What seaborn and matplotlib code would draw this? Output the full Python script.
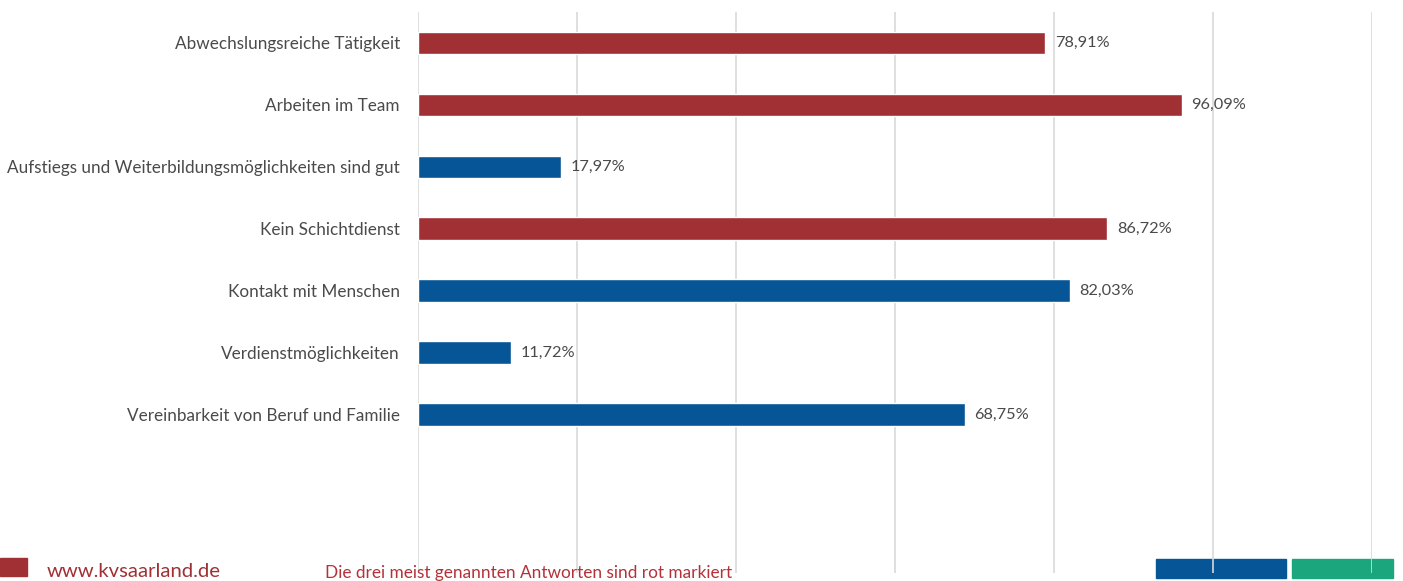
import matplotlib
matplotlib.use("Agg")
import matplotlib.pyplot as plt
import matplotlib.patches as mpatches
import seaborn as sns
import pandas as pd

categories = [
    "Abwechslungsreiche Tätigkeit",
    "Arbeiten im Team",
    "Aufstiegs und Weiterbildungsmöglichkeiten sind gut",
    "Kein Schichtdienst",
    "Kontakt mit Menschen",
    "Verdienstmöglichkeiten",
    "Vereinbarkeit von Beruf und Familie",
]
values = [78.91, 96.09, 17.97, 86.72, 82.03, 11.72, 68.75]
top_three = [True, True, False, True, False, False, False]

RED = "#a03034"
BLUE = "#065596"
GREEN = "#1ba67e"
TEXT = "#4a4a4a"

sns.set_theme(style="white")
plt.rcParams["font.family"] = ["Lato", "DejaVu Sans"]

df = pd.DataFrame({"Antwort": categories, "Anteil": values,
                   "Top": ["rot" if t else "blau" for t in top_three]})

fig = plt.figure(figsize=(14.03, 5.81), dpi=100)
W, H = 1403, 581
ax = fig.add_axes([418 / W, 1 - 573 / H, (1372 - 418) / W, (573 - 12) / H])
ax.set_facecolor("none")

sns.barplot(data=df, y="Antwort", x="Anteil", hue="Top",
            palette={"rot": RED, "blau": BLUE}, width=0.37,
            dodge=False, legend=False, ax=ax, saturation=1)

ax.set_xlim(0, 120)
ax.set_ylim(8.55, -0.5)
ax.set_xticks(range(0, 121, 20))
ax.set_xticklabels([])
ax.tick_params(axis="x", length=0)
ax.tick_params(axis="y", length=0, pad=13, labelsize=12.3, labelcolor=TEXT)
ax.set_yticks(range(len(categories)))
ax.set_yticklabels(categories)
ax.set_xlabel("")
ax.set_ylabel("")
ax.grid(axis="x", color="#d9d9d9", linewidth=1.2)
ax.set_axisbelow(True)
for s in ax.spines.values():
    s.set_visible(False)

for i, v in enumerate(values):
    ax.text(v + 1.2, i, f"{v:.2f}".replace(".", ",") + "%", va="center",
            ha="left", fontsize=11.8, color=TEXT)

# footer
fig.patches.append(mpatches.Rectangle((0, 1 - 576 / H), 27 / W, 18 / H,
                                      transform=fig.transFigure, color=RED, zorder=-1))
fig.patches.append(mpatches.Rectangle((1156 / W, 1 - 578 / H), 130 / W, 19 / H,
                                      transform=fig.transFigure, color=BLUE, zorder=-1))
fig.patches.append(mpatches.Rectangle((1292 / W, 1 - 578 / H), 101 / W, 19 / H,
                                      transform=fig.transFigure, color=GREEN, zorder=-1))
fig.text(47 / W, 1 - 577 / H, "www.kvsaarland.de", color=RED, fontsize=14.6,
         ha="left", va="baseline")
fig.text(325 / W, 1 - 578 / H, "Die drei meist genannten Antworten sind rot markiert",
         color="#b3323a", fontsize=12.4, ha="left", va="baseline")

fig.savefig("out.png", dpi=100)
